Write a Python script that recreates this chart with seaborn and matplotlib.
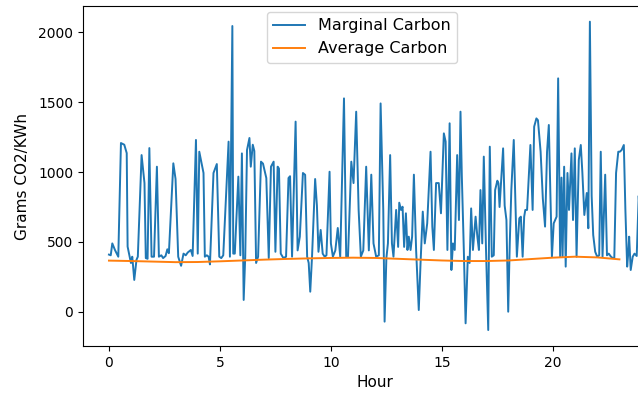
import matplotlib
matplotlib.use('Agg')
import matplotlib.pyplot as plt
import seaborn as sns

# -- Data -----------------------------------------------------
marginal_hours = [
    0.00, 0.08, 0.15, 0.27, 0.42, 0.54, 0.69, 0.80, 0.84, 0.99,
    1.05, 1.14, 1.24, 1.30, 1.47, 1.60, 1.66, 1.74, 1.82, 1.92,
    2.03, 2.16, 2.25, 2.36, 2.44, 2.55, 2.63, 2.70, 2.90, 3.00,
    3.12, 3.25, 3.36, 3.46, 3.55, 3.69, 3.77, 3.92, 4.00, 4.07,
    4.26, 4.32, 4.41, 4.49, 4.55, 4.71, 4.86, 4.97, 5.06, 5.15,
    5.39, 5.45, 5.56, 5.60, 5.67, 5.83, 5.92, 5.99, 6.07, 6.14,
    6.22, 6.33, 6.39, 6.48, 6.55, 6.63, 6.72, 6.85, 6.94, 7.09,
    7.20, 7.30, 7.42, 7.50, 7.60, 7.66, 7.74, 7.86, 7.98, 8.09,
    8.16, 8.25, 8.41, 8.50, 8.60, 8.74, 8.84, 8.93, 9.00, 9.07,
    9.15, 9.29, 9.37, 9.44, 9.54, 9.63, 9.72, 9.80, 9.94, 10.00,
    10.09, 10.20, 10.31, 10.42, 10.59, 10.69, 10.77, 10.92, 11.02, 11.14,
    11.25, 11.35, 11.46, 11.59, 11.71, 11.82, 11.92, 12.04, 12.16, 12.24,
    12.36, 12.42, 12.50, 12.57, 12.67, 12.75, 12.82, 12.94, 13.03, 13.08,
    13.16, 13.23, 13.30, 13.38, 13.45, 13.51, 13.59, 13.66, 13.74, 13.84,
    13.96, 14.04, 14.14, 14.23, 14.34, 14.49, 14.57, 14.64, 14.74, 14.86,
    14.96, 15.09, 15.17, 15.25, 15.35, 15.43, 15.50, 15.58, 15.69, 15.77,
    15.84, 15.90, 15.99, 16.07, 16.17, 16.25, 16.32, 16.40, 16.52, 16.60,
    16.67, 16.74, 16.82, 16.89, 16.99, 17.09, 17.16, 17.25, 17.34, 17.40,
    17.50, 17.55, 17.60, 17.76, 17.83, 17.91, 17.99, 18.06, 18.13, 18.24,
    18.31, 18.38, 18.49, 18.56, 18.64, 18.71, 18.76, 18.84, 18.99, 19.09,
    19.16, 19.26, 19.33, 19.45, 19.55, 19.65, 19.74, 19.82, 19.89, 19.96,
    20.04, 20.17, 20.24, 20.33, 20.39, 20.44, 20.51, 20.58, 20.66, 20.73,
    20.84, 20.91, 20.99, 21.07, 21.17, 21.26, 21.33, 21.42, 21.53, 21.60,
    21.67, 21.75, 21.82, 21.91, 22.00, 22.09, 22.16, 22.24, 22.36, 22.44,
    22.52, 22.62, 22.70, 22.77, 22.85, 22.95, 23.02, 23.10, 23.20, 23.27,
    23.35, 23.41, 23.44, 23.51, 23.60, 23.68, 23.78, 23.87, 23.92,
]
marginal_carbon = [
    410, 405, 490, 443, 395, 1207, 1195, 1135, 467, 350,
    395, 229, 373, 395, 1121, 921, 385, 380, 1171, 395,
    395, 1038, 395, 405, 385, 400, 448, 420, 1062, 950,
    395, 330, 417, 405, 425, 443, 400, 1229, 417, 1145,
    993, 395, 405, 395, 340, 993, 1057, 395, 385, 405,
    1217, 395, 2043, 417, 417, 967, 405, 1133, 86, 395,
    1157, 1243, 1038, 1195, 1150, 350, 395, 1074, 1060, 957,
    385, 1038, 1074, 430, 1038, 1025, 417, 385, 395, 957,
    970, 395, 1360, 440, 538, 993, 980, 395, 350, 145,
    395, 950, 760, 430, 586, 417, 395, 405, 1002, 490,
    395, 440, 600, 395, 1526, 395, 395, 1074, 921, 1431,
    729, 395, 440, 1038, 440, 981, 490, 395, 405, 1490,
    729, -69, 385, 490, 1121, 490, 395, 729, 465, 781,
    729, 752, 465, 705, 443, 538, 443, 538, 981, 443,
    14, 350, 717, 490, 633, 1145, 610, 443, 921, 921,
    705, 1276, 1217, 443, 1348, 300, 490, 443, 1121, 657,
    1431, 970, 443, -81, 395, 350, 740, 443, 681, 538,
    443, 871, 490, 1110, 443, -129, 1181, 395, 405, 871,
    938, 920, 750, 1169, 760, 657, 2, 490, 871, 1229,
    820, 395, 669, 681, 395, 681, 729, 729, 1193, 729,
    1324, 1383, 1370, 1145, 810, 610, 1145, 1336, 845, 395,
    633, 681, 1669, 395, 960, 395, 1038, 324, 993, 729,
    1133, 657, 1169, 395, 1086, 1193, 1000, 693, 850, 598,
    2074, 830, 550, 430, 395, 405, 1145, 395, 981, 405,
    417, 395, 385, 385, 993, 1145, 1145, 1157, 1193, 729,
    324, 443, 538, 300, 395, 417, 400, 830, 700,
]

average_hours = list(range(24))
average_carbon = [
    367, 364, 360, 356, 357, 362, 368, 374, 379, 383, 386, 388,
    386, 380, 374, 368, 364, 364, 368, 378, 388, 395, 390, 376,
]

# -- Plot -----------------------------------------------------
fig = plt.figure(figsize=(6.38, 3.93), dpi=100)
ax = fig.add_axes([83 / 638, 47 / 393, 583 / 638, 340 / 393])

sns.lineplot(x=marginal_hours, y=marginal_carbon, color='C0', linewidth=1.4,
             label='Marginal Carbon', ax=ax)
sns.lineplot(x=average_hours, y=average_carbon, color='C1', linewidth=1.4,
             label='Average Carbon', ax=ax)

ax.set_xlim(-1.17, 25.1)
ax.set_ylim(-243, 2186)
ax.set_xticks([0, 5, 10, 15, 20])
ax.set_yticks([0, 500, 1000, 1500, 2000])
ax.tick_params(labelsize=10)
ax.set_xlabel('Hour', fontsize=11)
ax.set_ylabel('Grams CO2/KWh', fontsize=11, labelpad=6)
ax.legend(loc='upper center', bbox_to_anchor=(362 / 638, 1 - 12 / 393),
          bbox_transform=fig.transFigure, borderaxespad=0, fontsize=11.5)

plt.savefig('out.png', dpi=100)
plt.close()
